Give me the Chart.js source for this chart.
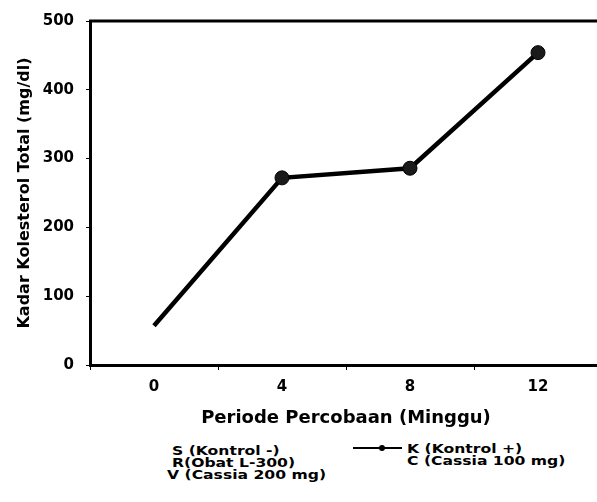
<!DOCTYPE html>
<html>
<head>
<meta charset="utf-8">
<script src="https://cdn.jsdelivr.net/npm/chart.js@4/dist/chart.umd.min.js"></script>
<style>
  html, body { margin: 0; padding: 0; background: #fff; width: 597px; height: 502px; overflow: hidden; position: relative; }
  #c { position: absolute; left: 0; top: 0; }
  .lg { position: absolute; font-family: "DejaVu Sans", "Liberation Sans", sans-serif; font-weight: bold; font-size: 13px; line-height: 12px; color: #000; white-space: nowrap; transform: scaleX(1.2); transform-origin: 0 0; }
  .sample { position: absolute; height: 2px; background: #000; }
  .dot { position: absolute; width: 6px; height: 6px; border-radius: 50%; background: #000; }
</style>
</head>
<body>
<canvas id="c" width="610" height="440"></canvas>
<div class="lg" style="left:172px; top:445px;">S (Kontrol -)</div>
<div class="lg" style="left:172px; top:457px;">R(Obat L-300)</div>
<div class="lg" style="left:167px; top:469px;">V (Cassia 200 mg)</div>
<div class="sample" style="left:353px; top:447px; width:49px;"></div>
<div class="dot" style="left:379px; top:445px;"></div>
<div class="lg" style="left:407px; top:443px;">K (Kontrol +)</div>
<div class="lg" style="left:407px; top:455px;">C (Cassia 100 mg)</div>
<script>
const categories = ['0', '4', '8', '12'];
const kolesterolK = [57, 272, 286, 454];
const yTicks = [0, 100, 200, 300, 400, 500];
const xTitle = 'Periode Percobaan (Minggu)';
const yTitle = 'Kadar Kolesterol Total (mg/dl)';

const FONT = '"DejaVu Sans", "Liberation Sans", sans-serif';

const topBorder = {
  id: 'topBorder',
  afterDraw(chart) {
    const {ctx, chartArea} = chart;
    ctx.save();
    ctx.strokeStyle = '#000';
    ctx.lineWidth = 3;
    ctx.beginPath();
    ctx.moveTo(chartArea.left - 1, chartArea.top);
    ctx.lineTo(chartArea.right + 5, chartArea.top);
    ctx.stroke();
    ctx.restore();
  }
};

new Chart(document.getElementById('c'), {
  type: 'line',
  data: {
    labels: categories,
    datasets: [{
      label: 'K (Kontrol +)',
      data: kolesterolK,
      borderColor: '#000',
      borderWidth: 4.5,
      backgroundColor: '#111',
      pointBackgroundColor: '#1a1a1a',
      pointBorderColor: '#000',
      pointBorderWidth: 1,
      pointRadius: [0, 7, 7, 7],
      tension: 0,
      fill: false
    }]
  },
  options: {
    responsive: false,
    animation: false,
    devicePixelRatio: 1,
    layout: { padding: { top: 20, left: 0, right: 0, bottom: 0 } },
    plugins: { legend: { display: false }, tooltip: { enabled: false } },
    scales: {
      x: {
        type: 'category',
        offset: true,
        grid: { display: true, offset: true, drawOnChartArea: false, drawTicks: true, tickLength: 5, color: '#000', lineWidth: 1 },
        border: { display: true, color: '#000', width: 3 },
        ticks: { color: '#000', font: { family: FONT, weight: 'bold', size: 15 }, padding: 8, maxRotation: 0 },
        title: { display: true, text: xTitle, color: '#000', font: { family: FONT, weight: 'bold', size: 18 }, padding: { top: 0, bottom: 11 } },
        afterFit(scale) { scale.height = 75; }
      },
      y: {
        min: 0,
        max: 500,
        afterBuildTicks(scale) { scale.ticks = yTicks.map(v => ({ value: v })); },
        grid: { display: true, drawOnChartArea: false, drawTicks: true, tickLength: 4, color: '#000', lineWidth: 1 },
        border: { display: true, color: '#000', width: 3 },
        ticks: { color: '#000', font: { family: FONT, weight: 'bold', size: 15 }, padding: 12 },
        title: { display: true, text: yTitle, color: '#000', font: { family: FONT, weight: 'bold', size: 16 }, padding: { top: 15, bottom: 0 } },
        afterFit(scale) { scale.width = 90; }
      }
    }
  },
  plugins: [topBorder]
});
</script>
</body>
</html>
